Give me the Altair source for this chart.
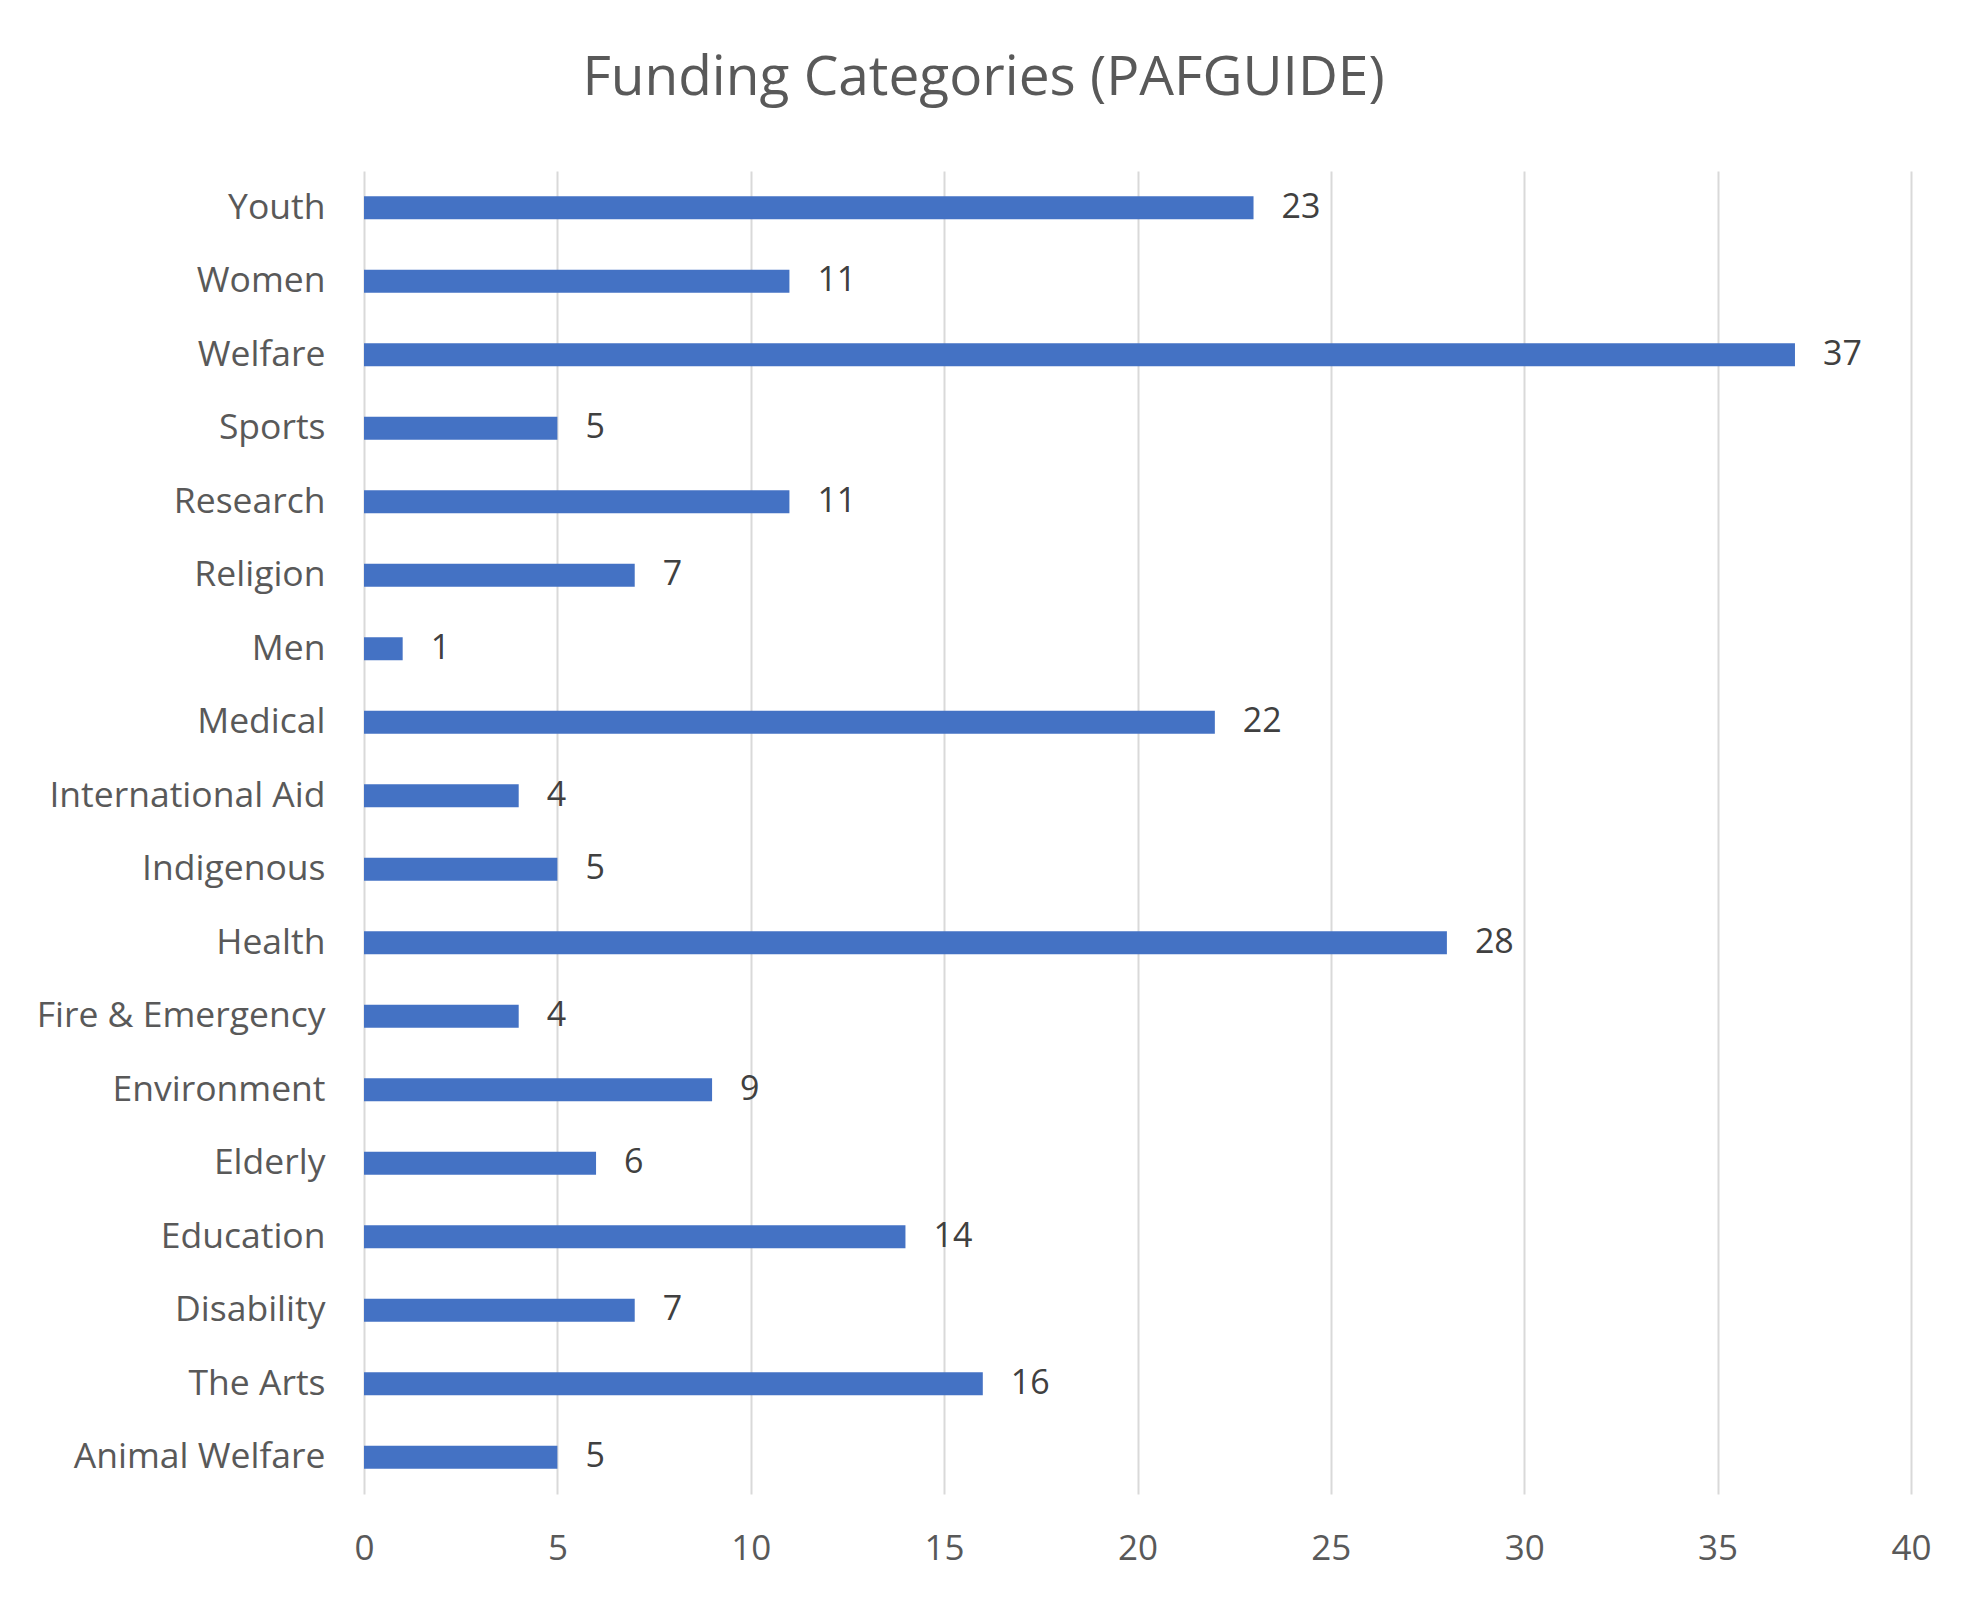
import altair as alt
import pandas as pd

categories = ["Youth", "Women", "Welfare", "Sports", "Research", "Religion", "Men",
              "Medical", "International Aid", "Indigenous", "Health", "Fire & Emergency",
              "Environment", "Elderly", "Education", "Disability", "The Arts", "Animal Welfare"]
values = [23, 11, 37, 5, 11, 7, 1, 22, 4, 5, 28, 4, 9, 6, 14, 7, 16, 5]
x_ticks = [0, 5, 10, 15, 20, 25, 30, 35, 40]

df = pd.DataFrame({"category": categories, "value": values})

FONT = "Open Sans"

y_enc = alt.Y("category:N", sort=categories, title=None,
              scale=alt.Scale(paddingInner=0, paddingOuter=0),
              axis=alt.Axis(labelFont=FONT, labelFontSize=35.5, labelColor="#595959",
                            labelPadding=39, ticks=False, domain=False, grid=False,
                            labelLimit=400))
x_enc = alt.X("value:Q", title=None,
              scale=alt.Scale(domain=[0, 40], nice=False),
              axis=alt.Axis(values=x_ticks, labelFont=FONT, labelFontSize=35,
                            labelColor="#595959", labelPadding=37, ticks=False,
                            labelFlush=False,
                            domain=False, grid=True, gridColor="#d9d9d9", gridWidth=2))

bars = alt.Chart(df).mark_bar(size=23, color="#4472C4").encode(x=x_enc, y=y_enc)

labels = alt.Chart(df).mark_text(align="left", baseline="middle", dx=28,
                                 font=FONT, fontSize=34, color="#404040").encode(
    x="value:Q", y=alt.Y("category:N", sort=categories), text="value:Q")

chart = alt.layer(bars, labels).properties(
    width=1547, height=1323,
    background="white",
    title=alt.TitleParams("Funding Categories (PAFGUIDE)", font=FONT, fontSize=55,
                          fontWeight="normal", color="#595959", anchor="middle",
                          frame="group", baseline="alphabetic", offset=21, dx=-154),
    autosize=alt.AutoSizeParams(type="none"),
    padding={"left": 356, "top": 163, "right": 63, "bottom": 99},
).configure_view(stroke=None)

chart.save("out.html", embed_options={"renderer": "svg", "actions": False})
